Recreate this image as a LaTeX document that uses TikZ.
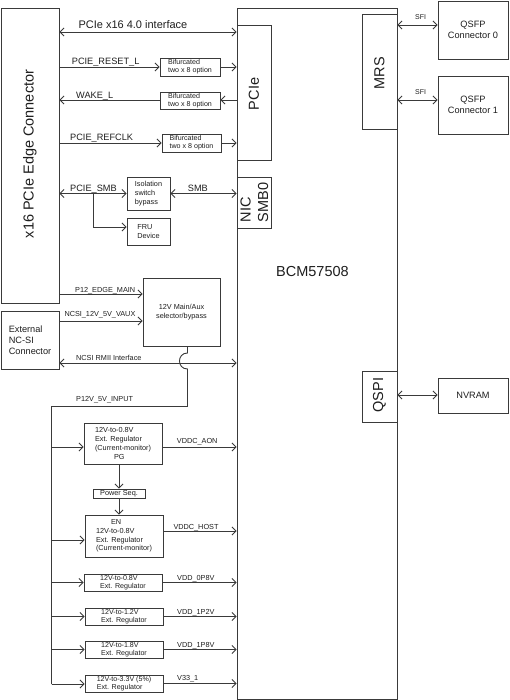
\documentclass[tikz,border=0pt]{standalone}
\usepackage{fontspec}
\setmainfont{Liberation Sans}
\usetikzlibrary{arrows.meta}
\definecolor{lc}{HTML}{3A3A3A}
\definecolor{tc}{HTML}{1E1E1E}
\begin{document}
\begin{tikzpicture}[x=1pt,y=-1pt,
  >={Straight Barb[length=4pt,width=8pt]},
  bx/.style={draw=lc, line width=0.9pt, inner sep=0pt, align=center, text=tc, fill=white},
  ln/.style={draw=lc, line width=0.9pt},
  xs/.style={font=\fontsize{7pt}{8.5pt}\selectfont, text=tc, inner sep=0pt},
  sm/.style={font=\fontsize{7.3pt}{8.8pt}\selectfont, text=tc, inner sep=0pt},
  sm2/.style={font=\fontsize{7.1pt}{8.1pt}\selectfont, text=tc, inner sep=0pt},
  md/.style={font=\fontsize{9.2pt}{11.2pt}\selectfont, text=tc, inner sep=0pt},
  ml/.style={font=\fontsize{11pt}{13pt}\selectfont, text=tc, inner sep=0pt},
  lg/.style={font=\fontsize{14.5pt}{17.5pt}\selectfont, text=tc, inner sep=0pt},
  lbl/.style={anchor=base west},
]
\useasboundingbox (0,0) rectangle (509,700);

% main blocks
\node[bx, minimum width=58pt, minimum height=295pt] (edge) at (30,155.5) {};
\node[lg, rotate=90] (edget) at (30,154) {x16 PCIe Edge Connector};

\node[bx, minimum width=160pt, minimum height=691pt] (bcm) at (317,353.5) {};
\node[lg, lbl] (bcmt) at (276,276) {BCM57508};

\node[bx, minimum width=34pt, minimum height=135pt] (pcie) at (254,92.5) {};
\node[lg, rotate=90] (pciet) at (254,94) {PCIe};

\node[bx, minimum width=35pt, minimum height=115pt] (mrs) at (379.5,71.5) {};
\node[lg, rotate=90] (mrst) at (379.5,73) {MRS};

\node[bx, md, minimum width=70pt, minimum height=58pt] (q0) at (473,30) {QSFP\\Connector 0};
\node[bx, md, minimum width=70pt, minimum height=58pt] (q1) at (473,105) {QSFP\\Connector 1};

\node[bx, minimum width=34pt, minimum height=51pt] (nic) at (254,202.5) {};
\node[lg, rotate=90, align=left] (nict) at (254.4,202.5) {NIC\\SMB0};

\node[bx, minimum width=35pt, minimum height=51pt] (qspi) at (379.5,396.5) {};
\node[lg, rotate=90] (qspit) at (379.5,395) {QSPI};
\node[bx, md, minimum width=70pt, minimum height=35pt] (nvram) at (473,395.5) {NVRAM};

% PCIe side boxes
\node[bx, sm2, align=left, minimum width=60pt, minimum height=18pt] (bif1) at (190,67) {Bifurcated\\two x 8 option};
\node[bx, sm2, align=left, minimum width=60pt, minimum height=17pt] (bif2) at (190,100.5) {Bifurcated\\two x 8 option};
\node[bx, sm2, align=left, minimum width=59pt, minimum height=18pt] (bif3) at (191.5,143) {Bifurcated\\two x 8 option};

\node[bx, sm, align=left, minimum width=43pt, minimum height=33pt] (iso) at (148.5,193.5) {Isolation\\switch\\bypass};
\node[bx, sm, align=left, minimum width=43pt, minimum height=27pt] (fru) at (148.5,231.5) {FRU\\Device};

\node[bx, sm, minimum width=77pt, minimum height=68pt] (sel) at (181.5,312) {12V Main/Aux\\selector/bypass};
\node[bx, md, align=left, minimum width=58pt, minimum height=58pt] (ext) at (30,340) {External\\NC-SI\\Connector};

% regulators
\node[bx, sm, align=left, minimum width=78pt, minimum height=41pt] (aon) at (123,443.5) {12V-to-0.8V\\Ext. Regulator\\(Current-monitor)\\\hspace*{19pt}PG};
\node[bx, sm, minimum width=52pt, minimum height=9pt] (pseq) at (119,493.5) {Power Seq.};
\node[bx, sm, align=left, minimum width=78pt, minimum height=42pt] (host) at (124,536) {\hspace*{15pt}EN\\12V-to-0.8V\\Ext. Regulator\\(Current-monitor)};
\node[bx, sm2, align=left, minimum width=78pt, minimum height=17pt] (r08) at (123,582.5) {12V-to-0.8V\\Ext. Regulator};
\node[bx, sm2, align=left, minimum width=78pt, minimum height=17pt] (r12) at (124,616.5) {12V-to-1.2V\\Ext. Regulator};
\node[bx, sm2, align=left, minimum width=78pt, minimum height=17pt] (r18) at (124,649.5) {12V-to-1.8V\\Ext. Regulator};
\node[bx, sm2, align=left, minimum width=78pt, minimum height=17pt] (r33) at (124,683.5) {12V-to-3.3V (5\%)\\Ext. Regulator};

% PCIe connectors
\draw[ln,<->] (edge.east |- 0,32) -- (pcie.west |- 0,32);
\draw[ln,->] (edge.east |- bif1.west) -- (bif1.west);
\draw[ln,->] (bif1.east) -- (pcie.west |- bif1.east);
\draw[ln,->] (pcie.west |- 0,100) -- (bif2.east |- 0,100);
\draw[ln,->] (bif2.west |- 0,100) -- (edge.east |- 0,100);
\draw[ln,->] (edge.east |- bif3.west) -- (bif3.west);
\draw[ln,->] (bif3.east) -- (pcie.west |- bif3.east);

% SMB
\draw[ln,<->] (edge.east |- iso.west) -- (iso.west);
\draw[ln,<->] (iso.east) -- (nic.west |- iso.east);
\coordinate (smbj) at (93,193.5);
\draw[ln,->] (smbj) |- (fru.west |- 0,227);

% power / NCSI
\draw[ln,->] (edge.east |- 0,294) -- (sel.west |- 0,294);
\draw[ln,->] (ext.east |- 0,321) -- (sel.west |- 0,321);
\draw[ln,<->] (ext.east |- 0,363) -- (bcm.west |- 0,363);
\coordinate (hop) at (187.5,353);
\coordinate (busT) at (51.5,406.5);
\coordinate (busB) at (51.5,684);
\draw[ln] ([xshift=6pt]sel.south) -- (hop) .. controls (176.8,353) and (176.8,369) .. (187.5,369) -- (hop |- busT) -- (busT) -- (busB);

\draw[ln,->] (busT |- 0,447) -- (aon.west |- 0,447);
\draw[ln,->] (busT |- 0,540) -- (host.west |- 0,540);
\draw[ln,->] (busT |- r08.west) -- (r08.west);
\draw[ln,->] (busT |- r12.west) -- (r12.west);
\draw[ln,->] (busT |- r18.west) -- (r18.west);
\draw[ln,->] (busB) -- (r33.west |- busB);

\draw[ln,->] (pseq.north |- aon.south) -- (pseq.north);
\draw[ln,->] (pseq.south) -- (pseq.south |- host.north);

\draw[ln,->] (aon.east |- 0,447) -- (bcm.west |- 0,447);
\draw[ln,->] (host.east |- 0,531) -- (bcm.west |- 0,531);
\draw[ln,->] (r08.east) -- (bcm.west |- r08.east);
\draw[ln,->] (r12.east) -- (bcm.west |- r12.east);
\draw[ln,->] (r18.east) -- (bcm.west |- r18.east);
\draw[ln,->] (r33.east) -- (bcm.west |- r33.east);

% right side
\draw[ln,<->] (mrs.east |- 0,25) -- (q0.west |- 0,25);
\draw[ln,<->] (mrs.east |- 0,100) -- (q1.west |- 0,100);
\draw[ln,<->] (qspi.east |- 0,395) -- (nvram.west |- 0,395);

% labels
\node[ml,lbl] (t1) at (78.3,28.3) {PCIe x16 4.0 interface};
\node[md,lbl] (t2) at (71.7,65) {PCIE\_RESET\_L};
\node[md,lbl] (t3) at (76,99) {WAKE\_L};
\node[md,lbl] (t4) at (70,141) {PCIE\_REFCLK};
\node[md,lbl] (t5) at (70,191.7) {PCIE\_SMB};
\node[md,lbl] (t6) at (187.7,191.7) {SMB};
\node[sm,lbl] (t7) at (75,292.3) {P12\_EDGE\_MAIN};
\node[sm,lbl] (t8) at (64.3,316.7) {NCSI\_12V\_5V\_VAUX};
\node[sm,lbl] (t9) at (76,360) {NCSI RMII Interface};
\node[sm,lbl] (t10) at (76,401.7) {P12V\_5V\_INPUT};
\node[sm,lbl] (t11) at (176.7,443.7) {VDDC\_AON};
\node[sm,lbl] (t12) at (173.3,529) {VDDC\_HOST};
\node[sm,lbl] (t13) at (177,580) {VDD\_0P8V};
\node[sm,lbl] (t14) at (177,614) {VDD\_1P2V};
\node[sm,lbl] (t15) at (177,647.7) {VDD\_1P8V};
\node[sm,lbl] (t16) at (177,680.3) {V33\_1};
\node[xs,lbl] (t17) at (415,20) {SFI};
\node[xs,lbl] (t18) at (415,94.3) {SFI};
\end{tikzpicture}
\end{document}
